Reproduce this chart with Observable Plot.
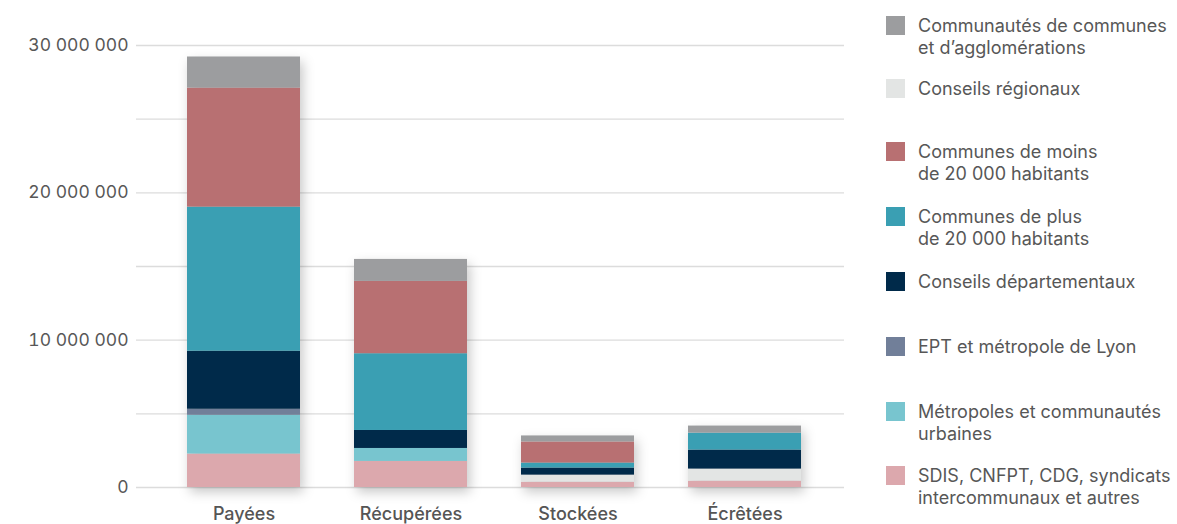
<!DOCTYPE html>
<html>
<head>
<meta charset="utf-8">
<script src="https://cdn.jsdelivr.net/npm/d3@7"></script>
<script src="https://cdn.jsdelivr.net/npm/@observablehq/plot@0.6"></script>
<style>
  html, body { margin: 0; padding: 0; background: #fff; }
  body { width: 1177px; height: 524px; position: relative; overflow: hidden; font-family: Inter, "Noto Sans", sans-serif; }
  #chart { position: absolute; left: 0; top: 0; }
  #legend { position: absolute; left: 0; top: 0; width: 1177px; height: 524px; pointer-events: none; }
  .item { position: absolute; left: 886px; }
  .sw { position: absolute; left: 0; top: 0; width: 19px; height: 19px; }
  .lab { position: absolute; left: 32px; top: -1px; white-space: nowrap; font-size: 18px; line-height: 21.5px; color: #575757; }
</style>
</head>
<body>
<div id="chart"></div>
<div id="legend"></div>
<script>
const categories = ["Payées", "Récupérées", "Stockées", "Écrêtées"];

// legend order (top to bottom)
const legendSeries = [
  "Communautés de communes et d’agglomérations",
  "Conseils régionaux",
  "Communes de moins de 20 000 habitants",
  "Communes de plus de 20 000 habitants",
  "Conseils départementaux",
  "EPT et métropole de Lyon",
  "Métropoles et communautés urbaines",
  "SDIS, CNFPT, CDG, syndicats intercommunaux et autres"
];
const legendLines = [
  ["Communautés de communes", "et d’agglomérations"],
  ["Conseils régionaux"],
  ["Communes de moins", "de 20 000 habitants"],
  ["Communes de plus", "de 20 000 habitants"],
  ["Conseils départementaux"],
  ["EPT et métropole de Lyon"],
  ["Métropoles et communautés", "urbaines"],
  ["SDIS, CNFPT, CDG, syndicats", "intercommunaux et autres"]
];
const seriesColors = ["#9c9d9f", "#e3e5e4", "#b87072", "#3a9fb3", "#002a4a", "#717f99", "#78c5cf", "#dca8ad"];
const legendTops = [16, 79, 142, 207, 272, 337, 402, 466];

// stacking order (bottom to top)
const stackOrder = [
  "SDIS, CNFPT, CDG, syndicats intercommunaux et autres",
  "Métropoles et communautés urbaines",
  "EPT et métropole de Lyon",
  "Conseils régionaux",
  "Conseils départementaux",
  "Communes de plus de 20 000 habitants",
  "Communes de moins de 20 000 habitants",
  "Communautés de communes et d’agglomérations"
];

// values per series, in millions, for [Payées, Récupérées, Stockées, Écrêtées]
const sdis        = [2.27, 1.77, 0.36, 0.43];
const metropoles  = [2.63, 0.88, 0.00, 0.00];
const ept         = [0.41, 0.00, 0.00, 0.00];
const regionaux   = [0.00, 0.00, 0.48, 0.82];
const departements= [3.94, 1.22, 0.48, 1.29];
const communesPlus= [9.78, 5.21, 0.34, 1.15];
const communesMoins=[8.08, 4.91, 1.43, 0.00];
const communautes = [2.11, 1.49, 0.41, 0.48];

const yTicks = [0, 10e6, 20e6, 30e6];
const gridTicks = [0, 5e6, 10e6, 15e6, 20e6, 25e6, 30e6];

const seriesValues = {
  "SDIS, CNFPT, CDG, syndicats intercommunaux et autres": sdis,
  "Métropoles et communautés urbaines": metropoles,
  "EPT et métropole de Lyon": ept,
  "Conseils régionaux": regionaux,
  "Conseils départementaux": departements,
  "Communes de plus de 20 000 habitants": communesPlus,
  "Communes de moins de 20 000 habitants": communesMoins,
  "Communautés de communes et d’agglomérations": communautes
};

const data = [];
for (const s of stackOrder) {
  seriesValues[s].forEach((v, i) => data.push({cat: categories[i], series: s, value: v * 1e6}));
}

const fmt = v => d3.format(",")(v).replace(/,/g, " ");

const plot = Plot.plot({
  width: 870,
  height: 524,
  marginTop: 45,
  marginBottom: 37,
  marginLeft: 136,
  marginRight: 26,
  style: {fontFamily: "Inter, 'Noto Sans', sans-serif", background: "transparent", overflow: "visible"},
  x: {domain: categories, paddingInner: 0.321, paddingOuter: 0.268, align: 0.544, label: null},
  y: {domain: [0, 30e6], label: null},
  color: {domain: legendSeries, range: seriesColors},
  marks: [
    Plot.ruleY(gridTicks, {stroke: "#dcdcdc", strokeWidth: 1.3}),
    Plot.barY(data, {x: "cat", y: "value", fill: "series", order: stackOrder, inset: 0}),
    Plot.axisY(yTicks, {tickSize: 0, tickPadding: 8, tickFormat: fmt, fontSize: 17.5, fill: "#575757", label: null}),
    Plot.axisX({tickSize: 0, tickPadding: 20, fontSize: 18, fontWeight: 500, fill: "#555555", label: null})
  ]
});
document.getElementById("chart").appendChild(plot);
d3.select(plot).selectAll("g[aria-label='bar']").style("filter", "drop-shadow(3px 5px 6px rgba(0,0,0,0.22))");

const legend = document.getElementById("legend");
legendLines.forEach((lines, i) => {
  const it = document.createElement("div");
  it.className = "item";
  it.style.top = legendTops[i] + "px";
  const sw = document.createElement("div");
  sw.className = "sw";
  sw.style.background = seriesColors[i];
  const lab = document.createElement("div");
  lab.className = "lab";
  lab.innerHTML = lines.join("<br>");
  it.appendChild(sw);
  it.appendChild(lab);
  legend.appendChild(it);
});
</script>
</body>
</html>
